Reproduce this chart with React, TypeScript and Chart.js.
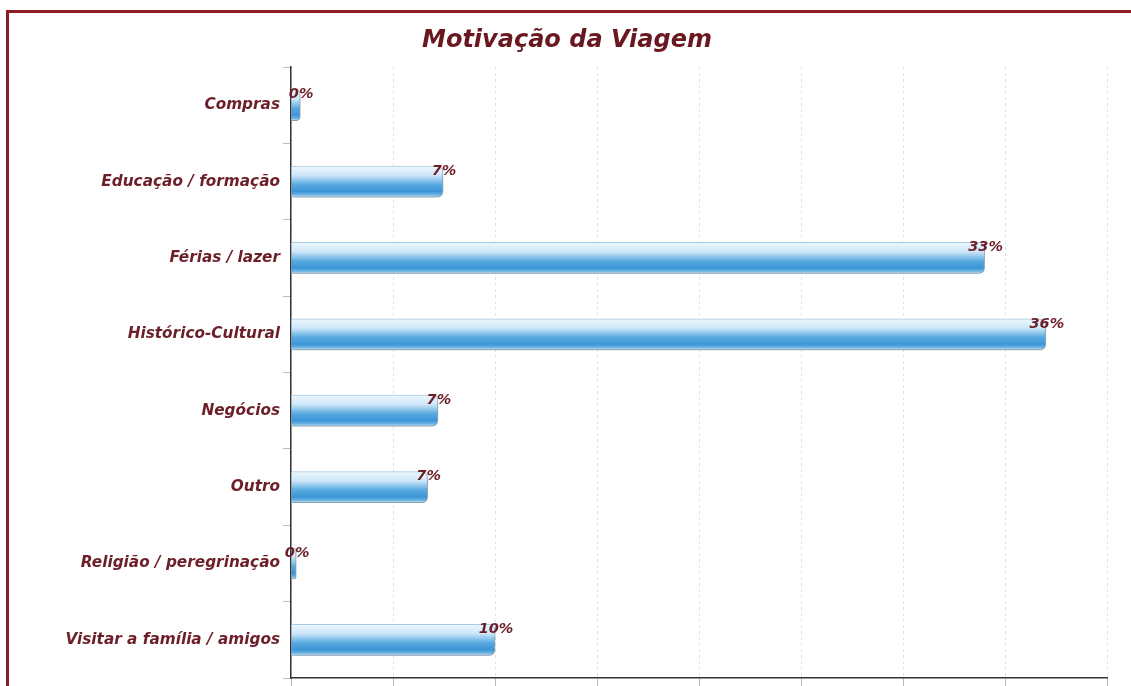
import React, { useEffect, useRef } from "react";
import { Chart, registerables } from "chart.js";

Chart.register(...registerables);

const categories = [
  "Compras",
  "Educação / formação",
  "Férias / lazer",
  "Histórico-Cultural",
  "Negócios",
  "Outro",
  "Religião / peregrinação",
  "Visitar a família / amigos",
];
const values = [0.45, 7.45, 34.0, 37.0, 7.2, 6.7, 0.25, 10.0];
const valueLabels = ["0%", "7%", "33%", "36%", "7%", "7%", "0%", "10%"];
const titleText = "Motivação da Viagem";
const xTicksMin = 0;
const xTicksMax = 40;
const xTickStep = 5;

const TEXT_RED = "#6c1f28";
const FONT = "'DejaVu Sans', Verdana, sans-serif";
const BAR_T = 31;

const titlePlugin = {
  id: "customTitle",
  afterDraw(chart: any) {
    const ctx = chart.ctx;
    ctx.save();
    ctx.font = `italic bold 24px ${FONT}`;
    ctx.fillStyle = "#6a1820";
    ctx.textAlign = "center";
    ctx.textBaseline = "middle";
    ctx.fillText(titleText, 567, 41);
    ctx.restore();
  },
};

const shadowPlugin = {
  id: "barShadow",
  beforeDatasetsDraw(chart: any) {
    const ctx = chart.ctx;
    ctx.save();
    ctx.shadowColor = "rgba(0,0,0,0.28)";
    ctx.shadowBlur = 3;
    ctx.shadowOffsetX = 1;
    ctx.shadowOffsetY = 2;
  },
  afterDatasetsDraw(chart: any) {
    chart.ctx.restore();
  },
};

const labelPlugin = {
  id: "endLabels",
  afterDatasetsDraw(chart: any) {
    const ctx = chart.ctx;
    const meta = chart.getDatasetMeta(0);
    ctx.save();
    ctx.font = `italic bold 14.5px ${FONT}`;
    ctx.fillStyle = TEXT_RED;
    ctx.textAlign = "center";
    ctx.textBaseline = "middle";
    meta.data.forEach((el: any, i: number) => {
      const top = el.y - BAR_T / 2;
      ctx.fillText(valueLabels[i], el.x + 1, top + 5);
    });
    ctx.restore();
  },
};

export default function App() {
  const ref = useRef<HTMLCanvasElement | null>(null);
  useEffect(() => {
    if (!ref.current) return;
    const chart = new Chart(ref.current, {
      type: "bar",
      data: {
        labels: categories,
        datasets: [
          {
            data: values,
            barThickness: BAR_T,
            borderWidth: 1,
            borderColor: "#a9cde8",
            borderSkipped: "start",
            borderRadius: { topRight: 6, bottomRight: 6, topLeft: 0, bottomLeft: 0 },
            backgroundColor: (context: any) => {
              const c = context.chart;
              const ys = c.scales && c.scales.y;
              if (!ys || context.dataIndex === undefined) return "#4aa0db";
              const yc = ys.getPixelForValue(context.dataIndex);
              if (!Number.isFinite(yc)) return "#4aa0db";
              const g = c.ctx.createLinearGradient(0, yc - BAR_T / 2, 0, yc + BAR_T / 2);
              g.addColorStop(0, "#eef7fd");
              g.addColorStop(0.3, "#cde6f8");
              g.addColorStop(0.6, "#57aae0");
              g.addColorStop(0.82, "#3c95d6");
              g.addColorStop(0.93, "#6db5e4");
              g.addColorStop(1, "#d9edf9");
              return g;
            },
          },
        ],
      },
      options: {
        indexAxis: "y",
        responsive: false,
        animation: false,
        events: [],
        layout: { padding: { left: 0, right: 24, top: 67, bottom: 0 } },
        plugins: {
          legend: { display: false },
          tooltip: { enabled: false },
          title: { display: false },
        },
        scales: {
          x: {
            type: "linear",
            min: xTicksMin,
            max: xTicksMax,
            ticks: { stepSize: xTickStep, color: "#555", font: { family: FONT, size: 11 } },
            grid: { color: "#e2e2e2", tickLength: 8, tickColor: "#bbbbbb" },
            border: { display: true, color: "#333", width: 1.5, dash: [3, 3] },
            afterFit: (s: any) => {
              s.height = 40;
            },
          },
          y: {
            type: "category",
            offset: true,
            ticks: {
              color: TEXT_RED,
              font: { family: FONT, size: 15.3, weight: "bold", style: "italic" },
              padding: 3,
            },
            grid: {
              offset: true,
              drawOnChartArea: false,
              drawTicks: true,
              tickLength: 8,
              color: "#bbbbbb",
            },
            border: { display: true, color: "#333", width: 1.5 },
            afterFit: (s: any) => {
              s.width = 291;
            },
          },
        },
      },
      plugins: [shadowPlugin, labelPlugin, titlePlugin],
    } as any);
    return () => chart.destroy();
  }, []);

  return (
    <div style={{ position: "fixed", left: 0, top: 0, width: 1131, height: 686, overflow: "hidden", background: "#fff" }}>
      <div
        style={{
          position: "absolute",
          left: 6,
          top: 10,
          width: 1200,
          height: 800,
          border: "3px solid #8b1d25",
          boxSizing: "border-box",
        }}
      />
      <canvas ref={ref} width={1131} height={718} style={{ position: "absolute", left: 0, top: 0 }} />
    </div>
  );
}
